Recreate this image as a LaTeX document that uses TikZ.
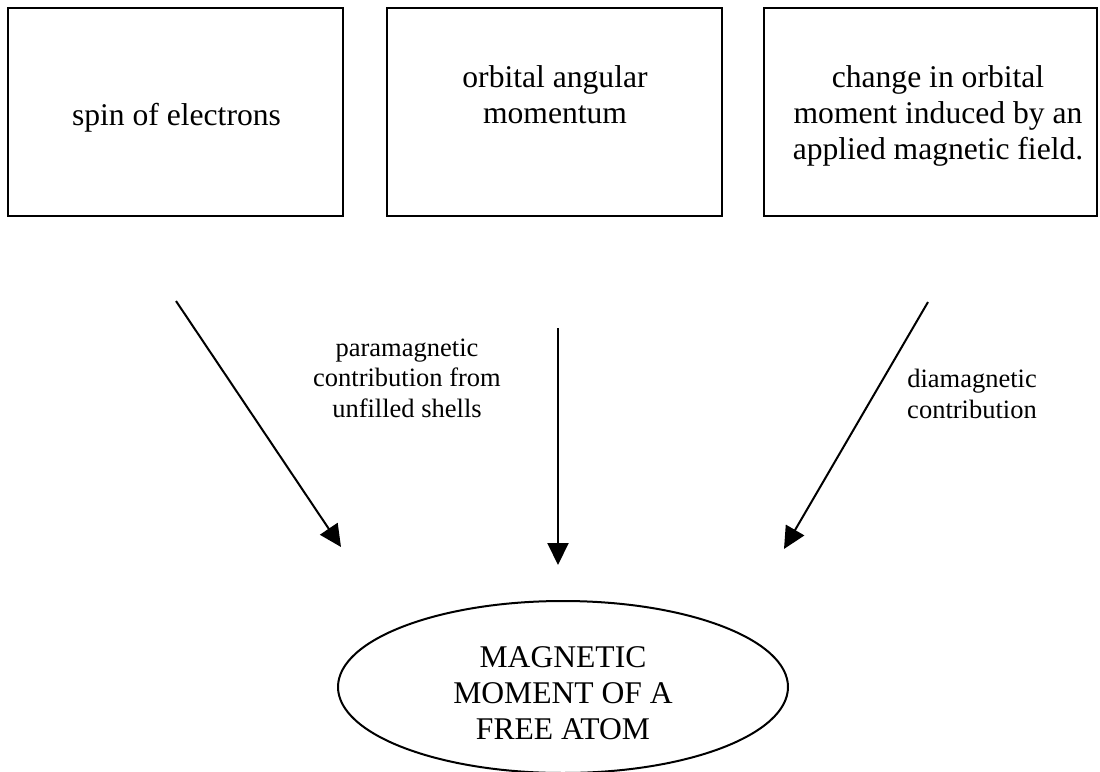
\documentclass[tikz,border=0pt]{standalone}
\usepackage{fontspec}
\setmainfont{Liberation Serif}
\usetikzlibrary{shapes.geometric,arrows.meta}
\tikzset{
  boxnode/.style={draw, line width=1.8pt, rectangle, inner sep=0pt, minimum height=208pt},
  bigtext/.style={inner sep=0pt, align=center, font=\fontsize{31.6}{36}\selectfont},
  smalltext/.style={inner sep=0pt, align=center, font=\fontsize{26.5}{30.5}\selectfont},
  arr/.style={line width=2pt, -{Triangle[length=22pt,width=21pt]}},
  atom/.style={draw, line width=2pt, ellipse, inner sep=0pt, minimum width=450pt, minimum height=172pt}
}
\begin{document}
\begin{tikzpicture}[x=1pt,y=-1pt]
\useasboundingbox (0,0) rectangle (1100,771);
% boxes
\node[boxnode, minimum width=335pt] (b1) at (175.5,112) {};
\node[boxnode, minimum width=335pt] (b2) at (554.5,112) {};
\node[boxnode, minimum width=333pt] (b3) at (930.5,112) {};
\node[bigtext] (t1) at (176.5,117.9) {\strut spin of electrons\strut};
\node[bigtext] (t2) at (555,98.3) {\strut orbital angular\\momentum\strut};
\node[bigtext] (t3) at (938,115.8) {\strut change in orbital\\moment induced by an\\applied magnetic field.\strut};
% ellipse
\node[atom] (m) at (563,687) {};
\node[bigtext] (mt) at (563,696.3) {\strut MAGNETIC\\MOMENT OF A\\FREE ATOM\strut};
% arrows
\coordinate (a1s) at (176,301);
\coordinate (a1e) at (341,547);
\coordinate (a2s) at (558,328);
\coordinate (a2e) at (558,565);
\coordinate (a3s) at (928,302);
\coordinate (a3e) at (784,549);
\draw[arr] (a1s) -- (a1e);
\draw[arr] (a2s) -- (a2e);
\draw[arr] (a3s) -- (a3e);
% labels
\node[smalltext] (pl) at (407,380.4) {\strut paramagnetic\\contribution from\\unfilled shells\strut};
\node[smalltext] (dl) at (972,396.9) {\strut diamagnetic\\contribution\strut};
\end{tikzpicture}
\end{document}
